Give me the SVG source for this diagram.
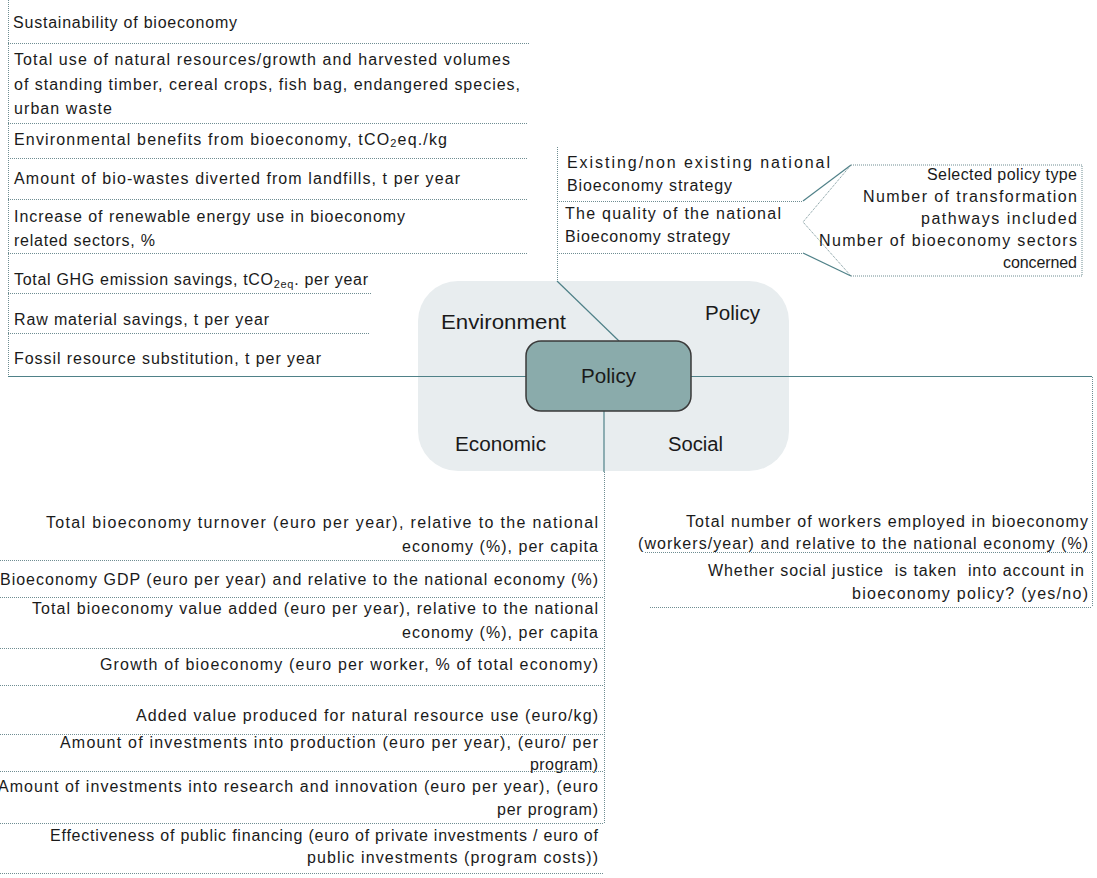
<svg xmlns="http://www.w3.org/2000/svg" width="1097" height="878" viewBox="0 0 1097 878">
<style>
.t{font-family:"Liberation Sans",Arial,sans-serif;font-size:16px;fill:#1a1a1a}
.e{text-anchor:end}
.pre{white-space:pre}
.lbl{font-family:"Liberation Sans",Arial,sans-serif;font-size:20px;fill:#1a1a1a}
.dot{stroke:#6f8d92;stroke-width:1;stroke-dasharray:1 1;fill:none}
.conn{stroke:#4f8188;stroke-width:1.2;fill:none}
.sub{font-size:11px}
</style>
<rect width="1097" height="878" fill="#ffffff"/>
<g id="hub-background">
<rect x="418" y="281" width="371" height="190" rx="40" fill="#e8edef"/>
<text class="lbl" x="441" y="329" textLength="125" lengthAdjust="spacingAndGlyphs">Environment</text>
<text class="lbl" x="705" y="320" textLength="55" lengthAdjust="spacingAndGlyphs">Policy</text>
<text class="lbl" x="455" y="451" textLength="91" lengthAdjust="spacingAndGlyphs">Economic</text>
<text class="lbl" x="668" y="451" textLength="55" lengthAdjust="spacingAndGlyphs">Social</text>
</g>
<g id="connectors">
<line class="conn" x1="8" y1="376.5" x2="526" y2="376.5"/>
<line class="conn" x1="691" y1="376.5" x2="1092" y2="376.5"/>
<line class="conn" x1="557" y1="281" x2="619" y2="341"/>
<line class="conn" x1="604" y1="411" x2="604" y2="472"/>
<line class="conn" x1="803" y1="201" x2="851" y2="165"/>
<line class="conn" x1="803" y1="253" x2="851" y2="276"/>
</g>
<g id="policy-center">
<rect x="526" y="341" width="165" height="70" rx="15" fill="#8aabab" stroke="#3a3a3a" stroke-width="1.5"/>
<text class="lbl" x="608.5" y="383" text-anchor="middle" textLength="55" lengthAdjust="spacingAndGlyphs">Policy</text>
</g>
<g id="environment-indicators">
<line class="dot" x1="8.5" y1="0" x2="8.5" y2="376"/>
<text class="t" x="13" y="28" textLength="224">Sustainability of bioeconomy</text>
<line class="dot" x1="8" y1="43.5" x2="530" y2="43.5"/>
<text class="t" x="14" y="65" textLength="496">Total use of natural resources/growth and harvested volumes</text>
<text class="t" x="14" y="90" textLength="506">of standing timber, cereal crops, fish bag, endangered species,</text>
<text class="t" x="14" y="114" textLength="98">urban waste</text>
<line class="dot" x1="8" y1="123.5" x2="527" y2="123.5"/>
<text class="t" x="14" y="145" textLength="433">Environmental benefits from bioeconomy, tCO<tspan class="sub" dy="2">2</tspan><tspan dy="-2">eq./kg</tspan></text>
<line class="dot" x1="8" y1="158.5" x2="527" y2="158.5"/>
<text class="t" x="14" y="184" textLength="446">Amount of bio-wastes diverted from landfills, t per year</text>
<line class="dot" x1="8" y1="199.5" x2="527" y2="199.5"/>
<text class="t" x="14" y="222" textLength="391">Increase of renewable energy use in bioeconomy</text>
<text class="t" x="14" y="246" textLength="141">related sectors, %</text>
<line class="dot" x1="8" y1="253.5" x2="527" y2="253.5"/>
<text class="t" x="14" y="285" textLength="354">Total GHG emission savings, tCO<tspan class="sub" dy="3">2eq</tspan><tspan dy="-3">. per year</tspan></text>
<line class="dot" x1="8" y1="293.5" x2="372" y2="293.5"/>
<text class="t" x="14" y="325" textLength="255">Raw material savings, t per year</text>
<line class="dot" x1="8" y1="333.5" x2="370" y2="333.5"/>
<text class="t" x="14" y="364" textLength="307">Fossil resource substitution, t per year</text>
</g>
<g id="policy-indicators">
<line class="dot" x1="557.5" y1="147" x2="557.5" y2="281"/>
<text class="t" x="567" y="168" textLength="263">Existing/non existing national</text>
<text class="t" x="567" y="191" textLength="165">Bioeconomy strategy</text>
<line class="dot" x1="557" y1="201.5" x2="803" y2="201.5"/>
<text class="t" x="565" y="219" textLength="216">The quality of the national</text>
<text class="t" x="565" y="242" textLength="165">Bioeconomy strategy</text>
<line class="dot" x1="557" y1="253.5" x2="803" y2="253.5"/>
</g>
<g id="strategy-quality">
<path class="dot" d="M851,165 H1082 V276 H851 M851,165 L803,222 L851,276"/>
<text class="t e" x="1077" y="180" textLength="150">Selected policy type</text>
<text class="t e" x="1077" y="202" textLength="214">Number of transformation</text>
<text class="t e" x="1077" y="224" textLength="156">pathways included</text>
<text class="t e" x="1077" y="246" textLength="258">Number of bioeconomy sectors</text>
<text class="t e" x="1077" y="268" textLength="74">concerned</text>
</g>
<g id="social-indicators">
<line class="dot" x1="1092.5" y1="377" x2="1092.5" y2="607"/>
<text class="t e" x="1088" y="527" textLength="402">Total number of workers employed in bioeconomy</text>
<text class="t e" x="1088" y="549" textLength="450">(workers/year) and relative to the national economy (%)</text>
<line class="dot" x1="645" y1="552.5" x2="1092" y2="552.5"/>
<text class="t e pre" x="1084" y="576" textLength="376">Whether social justice  is taken  into account in</text>
<text class="t e" x="1088" y="599" textLength="236">bioeconomy policy? (yes/no)</text>
<line class="dot" x1="650" y1="607.5" x2="1092" y2="607.5"/>
</g>
<g id="economic-indicators">
<line class="dot" x1="604.5" y1="472" x2="604.5" y2="823"/>
<text class="t e" x="598" y="528" textLength="552">Total bioeconomy turnover (euro per year), relative to the national</text>
<text class="t e" x="598" y="552" textLength="196">economy (%), per capita</text>
<line class="dot" x1="0" y1="560.5" x2="604" y2="560.5"/>
<text class="t e" x="598" y="585" textLength="598">Bioeconomy GDP (euro per year) and relative to the national economy (%)</text>
<line class="dot" x1="0" y1="597.5" x2="604" y2="597.5"/>
<text class="t e" x="598" y="614" textLength="566">Total bioeconomy value added (euro per year), relative to the national</text>
<text class="t e" x="598" y="638" textLength="196">economy (%), per capita</text>
<line class="dot" x1="0" y1="648.5" x2="604" y2="648.5"/>
<text class="t e" x="598" y="670" textLength="498">Growth of bioeconomy (euro per worker, % of total economy)</text>
<line class="dot" x1="0" y1="685.5" x2="604" y2="685.5"/>
<text class="t e" x="598" y="721" textLength="462">Added value produced for natural resource use (euro/kg)</text>
<line class="dot" x1="0" y1="734.5" x2="604" y2="734.5"/>
<text class="t e" x="598" y="748" textLength="538">Amount of investments into production (euro per year), (euro/ per</text>
<text class="t e" x="598" y="770" textLength="68">program)</text>
<line class="dot" x1="0" y1="771.5" x2="604" y2="771.5"/>
<text class="t e" x="598" y="792" textLength="600">Amount of investments into research and innovation (euro per year), (euro</text>
<text class="t e" x="598" y="815" textLength="101">per program)</text>
<line class="dot" x1="0" y1="823.5" x2="604" y2="823.5"/>
<text class="t e" x="598" y="841" textLength="548">Effectiveness of public financing (euro of private investments / euro of</text>
<text class="t e" x="598" y="863" textLength="291">public investments (program costs))</text>
<line class="dot" x1="0" y1="873.5" x2="604" y2="873.5"/>
</g>
</svg>
